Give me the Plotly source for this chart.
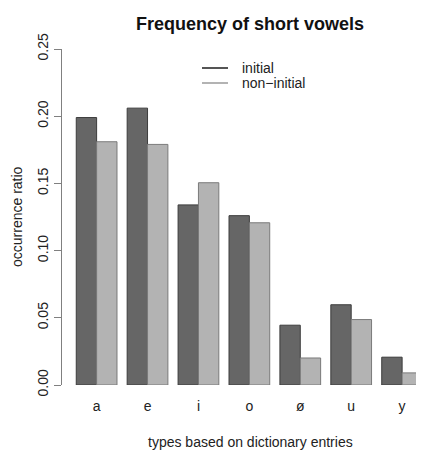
import plotly.graph_objects as go

vowels = ["a", "e", "i", "o", "ø", "u", "y"]
initial = [0.199, 0.206, 0.134, 0.126, 0.0445, 0.0597, 0.0207]
non_initial = [0.181, 0.179, 0.1505, 0.1207, 0.0201, 0.0487, 0.009]
series_names = ["initial", "non\u2212initial"]
ytick_vals = [0.0, 0.05, 0.10, 0.15, 0.20, 0.25]
ytick_text = ["0.00", "0.05", "0.10", "0.15", "0.20", "0.25"]

title_text = "Frequency of short vowels"
xtitle = "types based on dictionary entries"
ytitle = "occurrence ratio"

dark = "#666666"
light = "#b3b3b3"
FONT = "Liberation Sans, Arial, sans-serif"

OFF = 8  # page body margin
W, H = 424 - OFF, 450 - OFF
ML, MR, MT, MB = 62 - OFF, 0, 49 - OFF, 65

fig = go.Figure()
fig.add_trace(go.Bar(x=vowels, y=initial, name=series_names[0],
                     marker=dict(color=dark, line=dict(color="#3c3c3c", width=1)), showlegend=False))
fig.add_trace(go.Bar(x=vowels, y=non_initial, name=series_names[1],
                     marker=dict(color=light, line=dict(color="#7a7a7a", width=1)), showlegend=False))

fig.update_layout(
    width=W, height=H, autosize=False,
    margin=dict(l=ML, r=MR, t=MT, b=MB, pad=0),
    paper_bgcolor="white", plot_bgcolor="white",
    barmode="group", bargap=0.2, bargroupgap=0,
    font=dict(family=FONT, size=14, color="#222222"),
    showlegend=False,
)
fig.update_xaxes(range=[-0.68, 6.43], showline=False, ticks="", showgrid=False, zeroline=False,
                 tickfont=dict(size=14, color="#222222"), ticklabelstandoff=11, fixedrange=True)
fig.update_yaxes(range=[0, 0.25], showline=True, linecolor="#808080", linewidth=1,
                 ticks="outside", ticklen=7, tickcolor="#808080", tickwidth=1,
                 tickvals=ytick_vals, ticktext=ytick_text, tickangle=-90,
                 tickfont=dict(size=14, color="#222222"), showgrid=False, zeroline=False, fixedrange=True)

pw = W - ML - MR
ph = H - MT - MB
def px_x(p):
    return (p - OFF - ML) / pw
def px_y(p):
    return 1 - (p - OFF - MT) / ph

fig.add_annotation(text="<b>" + title_text + "</b>", xref="paper", yref="paper", x=px_x(250), y=px_y(24),
                   xanchor="center", yanchor="middle", showarrow=False, font=dict(size=18, color="#111111"))
fig.add_annotation(text=xtitle, xref="paper", yref="paper", x=px_x(250), y=px_y(442),
                   xanchor="center", yanchor="middle", showarrow=False, font=dict(size=14, color="#222222"))
fig.add_annotation(text=ytitle, xref="paper", yref="paper", x=px_x(17), y=px_y(217), textangle=-90,
                   xanchor="center", yanchor="middle", showarrow=False, font=dict(size=14, color="#222222"))

# legend (lines + labels, as in the original)
legend_colors = ["#555555", light]
for i, (name, col) in enumerate(zip(series_names, legend_colors)):
    yy = px_y(68 + 15 * i)
    fig.add_shape(type="line", xref="paper", yref="paper", x0=px_x(202), x1=px_x(228), y0=yy, y1=yy,
                  line=dict(color=col, width=2))
    fig.add_annotation(text=name, xref="paper", yref="paper", x=px_x(240), y=yy,
                       xanchor="left", yanchor="middle", showarrow=False,
                       font=dict(size=14, color="#222222"))

fig.write_html("out.html")
